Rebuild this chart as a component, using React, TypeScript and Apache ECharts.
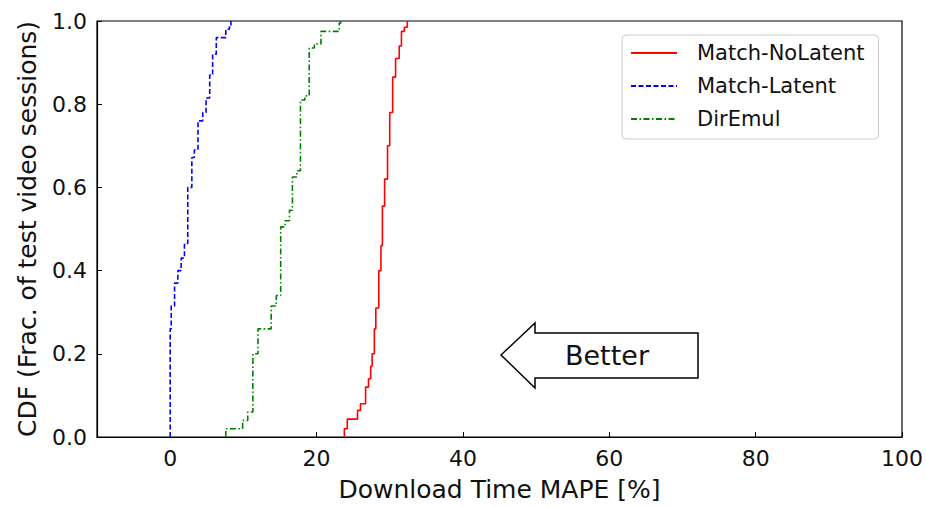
import React, { useEffect, useRef } from "react";
import * as echarts from "echarts";

// Empirical CDF step vertices: value at which the CDF rises, and the level it rises to
const noLatentX = [23.8, 23.8, 24.2, 25.6, 26.0, 26.7, 27.1, 27.4, 27.6, 27.9, 28.1, 28.5, 28.8, 29.0, 29.3, 29.7, 30.0, 30.4, 30.8, 31.3, 31.6, 32.0, 32.4];
const noLatentY = [0, 0.02, 0.043, 0.064, 0.08, 0.12, 0.14, 0.17, 0.2, 0.26, 0.31, 0.4, 0.46, 0.555, 0.62, 0.7, 0.78, 0.865, 0.91, 0.94, 0.975, 0.985, 1.0];

const latentX = [0, 0, 0.14, 0.6, 1.05, 1.5, 1.95, 2.4, 2.96, 3.3, 3.8, 4.45, 4.9, 5.4, 5.8, 6.3, 7.6, 8.1, 8.3];
const latentY = [0, 0.26, 0.315, 0.37, 0.4, 0.43, 0.465, 0.6, 0.672, 0.69, 0.76, 0.78, 0.815, 0.87, 0.92, 0.96, 0.98, 0.99, 1.0];

const dirEmulX = [7.6, 7.6, 9.9, 10.6, 11.3, 12.0, 13.8, 14.5, 15.1, 15.7, 16.3, 16.7, 17.3, 17.8, 18.4, 19.0, 19.7, 20.6, 23.1, 23.3];
const dirEmulY = [0, 0.02, 0.04, 0.06, 0.2, 0.26, 0.315, 0.34, 0.505, 0.52, 0.545, 0.625, 0.64, 0.81, 0.82, 0.935, 0.945, 0.975, 0.995, 1.0];

const seriesNames = ["Match-NoLatent", "Match-Latent", "DirEmul"];
const xTicks = [0, 20, 40, 60, 80, 100];
const xTitle = "Download Time MAPE [%]";
const yTitle = "CDF (Frac. of test video sessions)";
const arrowText = "Better";

const zip = (xs: number[], ys: number[]) => xs.map((x, i) => [x, ys[i]]);

const FONT = "DejaVu Sans";

export default function App() {
  const ref = useRef<HTMLDivElement>(null);
  useEffect(() => {
    if (!ref.current) return;
    const chart = echarts.init(ref.current, null, { renderer: "svg" });
    chart.setOption({
      animation: false,
      backgroundColor: "#fff",
      grid: {
        left: 97,
        right: 24,
        top: 21,
        bottom: 63,
        show: true,
        borderColor: "#000",
        borderWidth: 1.2,
        containLabel: false,
      },
      xAxis: {
        type: "value",
        min: -10,
        max: 100,
        name: xTitle,
        nameLocation: "middle",
        nameGap: 40,
        nameTextStyle: { fontFamily: FONT, fontSize: 25, color: "#111" },
        axisLine: { show: true, onZero: false, lineStyle: { color: "#000", width: 1.2 } },
        axisTick: { show: true, inside: true, length: 5, customValues: xTicks, lineStyle: { color: "#000" } },
        axisLabel: { customValues: xTicks, fontFamily: FONT, fontSize: 22, color: "#111", margin: 10 },
        splitLine: { show: false },
      },
      yAxis: {
        type: "value",
        min: 0,
        max: 1,
        interval: 0.2,
        name: yTitle,
        nameLocation: "middle",
        nameGap: 57,
        nameTextStyle: { fontFamily: FONT, fontSize: 25, color: "#111" },
        axisLine: { show: true, onZero: false, lineStyle: { color: "#000", width: 1.2 } },
        axisTick: { show: true, inside: true, length: 5, lineStyle: { color: "#000" } },
        axisLabel: {
          fontFamily: FONT,
          fontSize: 22,
          color: "#111",
          margin: 10,
          formatter: (v: number) => v.toFixed(1),
        },
        splitLine: { show: false },
      },
      legend: {
        orient: "vertical",
        left: 622,
        top: 35,
        padding: [6, 14, 8, 8],
        itemWidth: 46,
        itemHeight: 14,
        itemGap: 9,
        borderColor: "#cccccc",
        borderWidth: 1,
        borderRadius: 4,
        backgroundColor: "#fff",
        itemStyle: { opacity: 0, borderWidth: 0 },
        textStyle: { fontFamily: FONT, fontSize: 21, color: "#111", padding: [0, 0, 0, 15], lineHeight: 24 },
        data: seriesNames,
      },
      series: [
        {
          name: seriesNames[0],
          type: "line",
          step: "end",
          symbol: "none",
          data: zip(noLatentX, noLatentY),
          lineStyle: { color: "#ff0000", width: 1.6, type: "solid" },
          itemStyle: { color: "#ff0000" },
        },
        {
          name: seriesNames[1],
          type: "line",
          step: "end",
          symbol: "none",
          data: zip(latentX, latentY),
          lineStyle: { color: "#0000ff", width: 1.6, type: [5, 2.5] },
          itemStyle: { color: "#0000ff" },
        },
        {
          name: seriesNames[2],
          type: "line",
          step: "end",
          symbol: "none",
          data: zip(dirEmulX, dirEmulY),
          lineStyle: { color: "#008000", width: 1.6, type: [6, 2.5, 1.5, 2.5] },
          itemStyle: { color: "#008000" },
        },
      ],
      graphic: [
        {
          type: "polygon",
          shape: {
            points: [
              [501, 355],
              [535, 323],
              [535, 333],
              [698, 333],
              [698, 378],
              [535, 378],
              [535, 388],
            ],
          },
          style: { fill: "#fff", stroke: "#000", lineWidth: 1.5 },
          z: 10,
        },
        {
          type: "text",
          x: 607,
          y: 355,
          style: {
            text: arrowText,
            fontFamily: FONT,
            fontSize: 27,
            fill: "#111",
            align: "center",
            verticalAlign: "middle",
          },
          z: 11,
        },
      ],
    });
    return () => chart.dispose();
  }, []);
  return (
    <div
      ref={ref}
      style={{ position: "fixed", left: 0, top: 0, width: 926, height: 507, background: "#fff" }}
    />
  );
}
